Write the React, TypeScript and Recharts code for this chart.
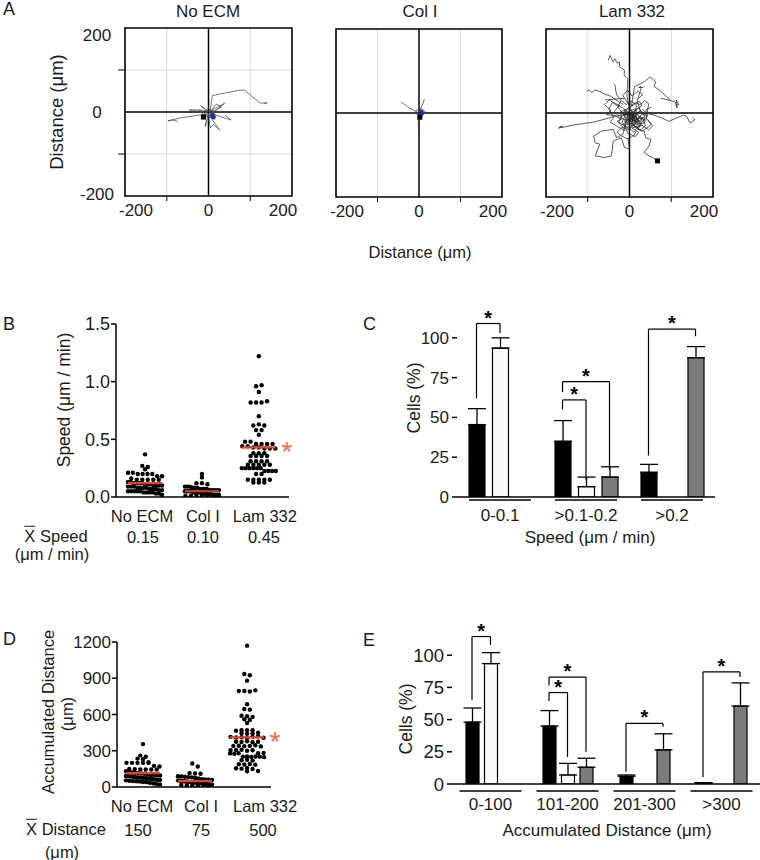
import React from 'react';
import {
  ScatterChart, Scatter, ComposedChart, Bar, ErrorBar, XAxis, YAxis,
  CartesianGrid, ReferenceLine, ReferenceArea,
} from 'recharts';

const FONT = '"Liberation Sans", Arial, Helvetica, sans-serif';
const NARROW = '"Liberation Sans Narrow", "Liberation Sans", Arial, sans-serif';
const INK = '#1b1b1b';
const RED = '#e0452c';
const STAR_RED = '#f36a4c';
const GRAY_BAR = '#7b7b7b';

// ---------- A: cell tracks, µm (x, y) ----------
type Pt = [number, number];

const noEcmTracks: Pt[][] = [
  [[4, 0], [9, 39], [39, 45], [74, 52], [87, 52], [97, 43], [112, 31], [124, 21], [141, 22], [132, 19]],
  [[0, -4], [-27, -8], [-62, -13], [-97, -21], [-85, -19], [-74, -23]],
  [[4, 2], [-12, 4], [-27, 5], [-46, 5], [-40, 3], [-20, 2]],
  [[0, 0], [39, 21], [30, 14], [6, -4]],
  [[2, -2], [54, -19], [40, -8]],
  [[0, -6], [27, -43], [12, -30], [4, -38], [0, -10]],
  [[-2, 2], [-19, 15], [-8, 8]],
  [[0, -4], [-8, -35], [-4, -18]],
  [[4, 0], [19, 19], [31, 12], [8, -2]],
  [[-6, -2], [-22, 4], [-10, -8], [6, -14], [16, -6], [2, 6]],
  [[-4, -6], [10, -10], [14, 2], [-2, 8], [-10, -4], [2, -12], [12, -16]],
];
const noEcmStarts: Pt[] = [[12, -12], [9, -8]];
const noEcmEnds: Pt[] = [[-12, -12]];

const colITracks: Pt[][] = [
  [[-43, 26], [-37, 22], [-31, 18], [-25, 12], [-19, 10], [-12, 6], [-4, 2]],
  [[0, 2], [9, 22], [13, 33]],
  [[2, -5], [-2, -25], [0, -40]],
  [[-8, 6], [8, 10], [16, 2], [4, -9], [-4, -5], [12, -2], [-8, -2], [2, 6]],
];
const colIStarts: Pt[] = [[4, -2], [6, 2]];
const colIEnds: Pt[] = [[2, -10]];

const lam332Tracks: Pt[][] = [
  [[0, -2], [-20, -5], [-43, -10], [-82, -21], [-130, -28], [-170, -36], [-160, -31], [-168, -34]],
  [[0, 8], [-6, 40], [-4, 82], [-13, 90], [-12, 102], [-24, 110], [-24, 122], [-29, 118], [-35, 129], [-39, 122], [-47, 137], [-51, 125]],
  [[-15, 20], [-30, 30], [-45, 40], [-60, 45], [-71, 51], [-82, 55], [-90, 49], [-99, 55], [-102, 51]],
  [[-12, 35], [-35, 33], [-59, 31]],
  [[5, 20], [12, 63], [35, 74], [49, 86], [63, 74], [59, 63], [71, 55], [98, 31]],
  [[75, 35], [94, 31], [110, 26], [114, 12], [112, 31], [118, 20], [110, 18]],
  [[40, 0], [59, -5], [78, -12], [94, -20], [110, -13], [129, -5], [137, -8], [145, -24], [157, -16], [151, -10]],
  [[8, -27], [20, -39], [35, -43], [39, -59], [51, -63], [47, -78], [35, -94], [47, -102], [55, -106], [67, -114], [71, -118], [63, -110]],
  [[-8, -20], [-16, -51], [-31, -59], [-39, -39], [-67, -43], [-86, -55], [-82, -71], [-71, -74], [-82, -102], [-59, -106], [-43, -102], [-39, -67], [-20, -59], [-12, -82], [0, -86], [-4, -59]],
  [[20, 35], [27, 55], [27, 63], [22, 61], [34, 61]],
  [[-20, 31], [-31, 43], [-35, 67], [-38, 70]],
  [[0, 0], [12, -8], [6, -20], [20, -15], [28, -30], [15, -35], [8, -24], [-5, -28], [-2, -12], [10, 5], [22, 12], [30, 0]],
  [[5, -5], [-10, 8], [-22, 2], [-18, -14], [-30, -20], [-12, -30], [0, -40], [10, -22], [25, -8], [38, -18], [44, -4], [30, 10]],
  [[8, -10], [18, 18], [4, 28], [-8, 20], [-20, 30], [-28, 14], [-14, -4], [6, -6], [16, -28], [34, -24], [40, 8], [52, 14]],
  [[10, -12], [2, 12], [14, 24], [26, 20], [36, 30], [46, 22], [40, -12], [52, -28], [30, -44], [18, -36], [10, -46], [-2, -34]],
  [[12, -6], [-6, -18], [-24, -10], [-36, 4], [-24, 18], [-40, 26], [-50, 10], [-38, -10], [-46, -22], [-26, -34], [-10, -42]],
  [[6, -14], [20, -4], [14, 10], [-2, 4], [-6, -10], [10, -18], [24, -22], [16, -8], [4, -2], [14, -16]],
  [[14, -10], [4, -26], [-12, -20], [-4, -6], [8, -2], [18, -12], [10, -30], [22, -36], [32, -18], [20, -6]],
  [[10, -8], [26, 4], [18, 32], [32, 44], [20, 52], [6, 40], [-4, 54], [-16, 42], [-6, 26], [8, 18]],
  [[6, -6], [-14, -26], [-4, -48], [14, -56], [22, -46], [6, -36], [28, -28], [46, -40], [56, -30], [44, -16]],
  [[8, -12], [-16, 12], [-34, 20], [-48, 32], [-60, 20], [-44, 6], [-56, -4], [-34, -6], [-20, -16]],
  [[4, -8], [-8, -2], [-18, -22], [-6, -34], [8, -28], [2, -16], [18, -2], [30, -14], [24, -26], [12, -20]],
  [[10, -4], [22, -20], [36, -8], [28, 6], [14, -2], [6, -22], [-8, -14], [-16, 0], [-4, 10], [10, 2]],
  [[6, -10], [0, -24], [14, -32], [26, -40], [38, -30], [32, -12], [18, -14], [8, 0], [-4, -8], [-10, -26]],
  [[8, -6], [16, 8], [30, 18], [24, 28], [10, 22], [0, 14], [-12, 6], [-2, -6], [12, -14], [20, -28]],
  [[12, -14], [-2, -20], [-14, -36], [-26, -24], [-20, -8], [-6, -2], [4, -14], [16, -24], [28, -4], [40, -2]],
  [[6, -8], [20, -16], [10, -30], [-4, -40], [-18, -34], [-30, -46], [-20, -54], [-4, -62], [10, -54], [16, -44]],
];
const lam332Starts: Pt[] = [];
const lam332Ends: Pt[] = [[67, -114]];

const trackTicks = [-200, -100, 0, 100, 200];

// ---------- B: speed (µm/min) per cell ----------
const groups = ['No ECM', 'Col I', 'Lam 332'];
const speedNoEcm = [0.37, 0.27, 0.26, 0.24, 0.21, 0.21, 0.2, 0.2, 0.2, 0.2, 0.18, 0.18, 0.16, 0.15, 0.15, 0.15, 0.15, 0.15,
  0.13, 0.13, 0.12, 0.12, 0.12, 0.12, 0.11, 0.11, 0.11, 0.1, 0.1, 0.1, 0.1, 0.09, 0.09, 0.09, 0.08, 0.08, 0.08, 0.08,
  0.07, 0.07, 0.07, 0.06, 0.06, 0.05, 0.05, 0.05, 0.05, 0.05, 0.04, 0.04, 0.04, 0.04, 0.03, 0.03, 0.02];
const speedColI = [0.2, 0.17, 0.12, 0.12, 0.11, 0.09, 0.09, 0.09, 0.08, 0.08, 0.08, 0.07, 0.07, 0.07, 0.07, 0.06, 0.06,
  0.06, 0.06, 0.06, 0.05, 0.05, 0.05, 0.05, 0.05, 0.04, 0.04, 0.04, 0.04, 0.04, 0.03, 0.03, 0.03, 0.03, 0.03, 0.03,
  0.02, 0.02, 0.02, 0.02, 0.02, 0.01, 0.01, 0.01, 0.01, 0.01, 0.01, 0.01];
const speedLam = [1.22, 0.96, 0.97, 0.91, 0.82, 0.82, 0.82, 0.83, 0.7, 0.62, 0.63, 0.62, 0.58, 0.58, 0.54, 0.48, 0.48,
  0.46, 0.46, 0.46, 0.46, 0.44, 0.44, 0.43, 0.43, 0.42, 0.42, 0.42, 0.38, 0.38, 0.38, 0.355, 0.355, 0.355, 0.355,
  0.31, 0.31, 0.31, 0.31, 0.28, 0.28, 0.28, 0.28, 0.28, 0.25, 0.25, 0.25, 0.25, 0.25, 0.25, 0.225, 0.225, 0.225,
  0.225, 0.2, 0.2, 0.15, 0.15, 0.15, 0.15, 0.15, 0.125, 0.125, 0.125];
const speedMeans = [0.12, 0.05, 0.43];
const speedMeanLabels = ['0.15', '0.10', '0.45'];

// ---------- C: % cells per speed bin ----------
const speedBins = ['0-0.1', '>0.1-0.2', '>0.2'];
const speedPctNoEcm = [45.5, 35, 15.5];
const speedErrNoEcm = [10, 13, 5];
const speedPctColI = [93.5, 6.5, 0];
const speedErrColI = [6.5, 6, 0];
const speedPctLam = [0, 12.5, 87.5];
const speedErrLam = [0, 6.5, 7];
// significance brackets: group, bar slot from/to, leg and top levels (%)
const speedBrackets = [
  { g: 0, from: 0, to: 1, yl: 62, yt: 109, yr: 103 },
  { g: 1, from: 0, to: 1, yl: 55, yt: 61, yr: 11 },
  { g: 1, from: 0, to: 2, yl: 66, yt: 72.5, yr: 17 },
  { g: 2, from: 0, to: 2, yl: 26, yt: 105.5, yr: 101 },
];

// ---------- D: accumulated distance (µm) per cell ----------
const distNoEcm = [355, 260, 250, 235, 230, 205, 200, 200, 200, 200, 200, 175, 170, 150, 148, 146, 145, 145, 145, 130,
  125, 120, 118, 115, 112, 110, 105, 100, 100, 98, 95, 92, 90, 88, 85, 82, 80, 78, 75, 72, 70, 68, 65, 62, 60, 58,
  55, 52, 50, 48, 45, 42, 40, 35, 30, 25, 20];
const distColI = [195, 170, 115, 112, 110, 90, 88, 85, 82, 80, 75, 70, 65, 62, 60, 58, 55, 52, 50, 48, 46, 44, 42,
  40, 38, 36, 34, 32, 30, 28, 26, 24, 22, 20, 18, 15, 12, 10, 8, 5];
const distLam = [1170, 935, 925, 880, 795, 795, 790, 800, 685, 645, 640, 590, 585, 580, 560, 555, 530, 470, 470, 465,
  470, 445, 440, 445, 450, 415, 410, 412, 405, 418, 420, 408, 375, 372, 378, 370, 375, 340, 342, 338, 340, 345, 336,
  305, 306, 308, 300, 304, 280, 278, 275, 282, 279, 250, 252, 248, 253, 251, 247, 222, 225, 220, 188, 186, 190, 185,
  155, 152, 158, 150, 132, 130];
const distMeans = [115, 48, 410];
const distMeanLabels = ['150', '75', '500'];

// ---------- E: % cells per distance bin ----------
const distBins = ['0-100', '101-200', '201-300', '>300'];
const distPctNoEcm = [48, 45, 6, 1];
const distErrNoEcm = [11, 12, 1, 0];
const distPctColI = [93.5, 7, 0, 0];
const distErrColI = [8.5, 9, 0, 0];
const distPctLam = [0, 13, 26.5, 60.5];
const distErrLam = [0, 7, 12.5, 18];
const distBrackets = [
  { g: 0, from: 0, to: 1, yl: 65, yt: 114.5, yr: 108 },
  { g: 1, from: 0, to: 1, yl: 64.5, yt: 71, yr: 21 },
  { g: 1, from: 0, to: 2, yl: 76.5, yt: 83, yr: 25 },
  { g: 2, from: 0, to: 2, yl: 9.5, yt: 47, yr: 44.5 },
  { g: 3, from: 0, to: 2, yl: 5.5, yt: 87, yr: 83 },
];

// ---------- helpers ----------
const toPts = (t: Pt[]) => t.map(([x, y]) => ({ x, y }));

// row-based dot layout (like a column scatter): values in the same pixel row spread sideways
function swarm(values: number[], cat: number, pxPerY: number, pxPerX: number) {
  const rows = new Map<number, number[]>();
  values.forEach((v) => {
    const r = Math.round((v * pxPerY) / 4.5);
    if (!rows.has(r)) rows.set(r, []);
    rows.get(r)!.push(v);
  });
  const out: { x: number; y: number }[] = [];
  rows.forEach((vs) => {
    const n = vs.length;
    const step = n > 1 ? Math.min(5.5, 34 / (n - 1)) : 0;
    vs.forEach((v, j) => out.push({ x: cat + ((j - (n - 1) / 2) * step) / pxPerX, y: v }));
  });
  return out;
}

const noShape = () => <g />;
const blackDot = (p: any) => <circle cx={p.cx} cy={p.cy} r={2.2} fill="#000" />;
const blueDot = (p: any) => <circle cx={p.cx} cy={p.cy} r={2.4} fill="#1f2fa8" />;
const blackSquare = (p: any) => <rect x={p.cx - 2.5} y={p.cy - 2.5} width={5} height={5} fill="#000" />;

function Txt({ x, y, size = 17, rotate = false, anchor = 'middle', color = INK, children }: any) {
  const tx = anchor === 'middle' ? '-50%' : anchor === 'end' ? '-100%' : '0';
  return (
    <div
      style={{
        position: 'absolute', left: x, top: y, fontSize: size, fontFamily: FONT, color,
        lineHeight: 1, whiteSpace: 'nowrap',
        transform: `translate(${tx}, -50%)${rotate ? ' rotate(-90deg)' : ''}`,
      }}
    >
      {children}
    </div>
  );
}

const XBar = ({ label }: { label: string }) => (
  <span><span style={{ textDecoration: 'overline' }}>X</span> {label}</span>
);

function TrackXTick(p: any) {
  const v = p.payload.value;
  if (Math.abs(v) === 100) {
    return <line x1={p.x} x2={p.x} y1={p.y - 8} y2={p.y - 3} stroke="#000" strokeWidth={1} />;
  }
  const dx = v === -200 ? 11 : v === 200 ? -9 : 0;
  return (
    <text x={p.x + dx} y={p.y + 12} textAnchor="middle" fontSize={17} fontFamily={FONT} fill={INK}>{v}</text>
  );
}

function TrackYTick(p: any) {
  const v = p.payload.value;
  if (Math.abs(v) === 100) {
    return <line x1={p.x + 1} x2={p.x + 8} y1={p.y} y2={p.y} stroke="#000" strokeWidth={1} />;
  }
  const dy = v === 200 ? 13 : v === -200 ? 4 : 6;
  return (
    <text x={p.x - 20} y={p.y + dy} textAnchor="middle" fontSize={17} fontFamily={FONT} fill={INK}>{v}</text>
  );
}

function TrackPanel({ tracks, starts, ends, left, top, width, height, margin, yTicks, color }: any) {
  return (
    <div style={{ position: 'absolute', left, top }}>
      <ScatterChart width={width} height={height} margin={margin}>
        <CartesianGrid stroke="#d9d9d9" horizontalValues={[-100, 100]} verticalValues={[-100, 100]} />
        <XAxis type="number" dataKey="x" domain={[-200, 200]} ticks={trackTicks} interval={0} allowDataOverflow
          axisLine={false} tickLine={false} height={30} tick={TrackXTick} />
        <YAxis type="number" dataKey="y" domain={[-200, 200]} ticks={trackTicks} interval={0} allowDataOverflow
          axisLine={false} tickLine={false} width={yTicks ? 40 : 0} tick={yTicks ? TrackYTick : false} />
        <ReferenceLine x={0} stroke="#000" strokeWidth={1.5} />
        <ReferenceLine y={0} stroke="#000" strokeWidth={1.5} />
        {tracks.map((t: Pt[], i: number) => (
          <Scatter key={i} data={toPts(t)} line={{ stroke: color, strokeWidth: 0.75 }} shape={noShape}
            isAnimationActive={false} />
        ))}
        <Scatter data={toPts(starts)} shape={blueDot} isAnimationActive={false} />
        <Scatter data={toPts(ends)} shape={blackSquare} isAnimationActive={false} />
        <ReferenceArea x1={-200} x2={200} y1={-200} y2={200} fill="none" fillOpacity={0} stroke="#000"
          strokeWidth={1.6} />
      </ScatterChart>
    </div>
  );
}

const makeCatTick = (shifts: number[]) => (p: any) => (
  <text x={p.x + shifts[p.payload.value]} y={p.y + 17} textAnchor="middle" fontSize={16.5} fontFamily={FONT}
    fill={INK}>{groups[p.payload.value]}</text>
);

const redStar = (p: any) => {
  const vb = p.viewBox;
  return (
    <text x={vb.x + vb.width + 11} y={vb.y + 14} textAnchor="middle" fontSize={28} fontFamily={FONT}
      fill={STAR_RED}>*</text>
  );
};

function DotPanel({ sets, means, pxPerY, pxPerX, domainX, domainY, yTicks, tickFmt, shifts, left, top, width,
  height, margin, yWidth, tickFont }: any) {
  const half = 17 / pxPerX;
  return (
    <div style={{ position: 'absolute', left, top }}>
      <ScatterChart width={width} height={height} margin={margin}>
        <XAxis type="number" dataKey="x" domain={domainX} ticks={[0, 1, 2]} interval={0} allowDataOverflow
          tickLine={false} axisLine={{ stroke: '#000', strokeWidth: 1.5 }} height={26} tick={makeCatTick(shifts)} />
        <YAxis type="number" dataKey="y" domain={domainY} ticks={yTicks} interval={0} allowDataOverflow width={yWidth}
          axisLine={{ stroke: '#000', strokeWidth: 1.5 }} tickLine={{ stroke: '#000', strokeWidth: 1.5 }}
          tickSize={5} tickMargin={1} tickFormatter={tickFmt}
          tick={{ fill: INK, fontSize: tickFont, fontFamily: FONT }} />
        {sets.map((vals: number[], i: number) => (
          <Scatter key={i} data={swarm(vals, i, pxPerY, pxPerX)} shape={blackDot} isAnimationActive={false} />
        ))}
        {/* mean lines drawn as 2-point series so they sit on top of the dots */}
        {means.map((m: number, i: number) => (
          <Scatter key={'m' + i} data={[{ x: i - half, y: m }, { x: i + half, y: m }]}
            line={{ stroke: RED, strokeWidth: 2.2 }} shape={noShape} isAnimationActive={false} />
        ))}
        <ReferenceLine segment={[{ x: 2 - half, y: means[2] }, { x: 2 + half, y: means[2] }]} stroke="none"
          ifOverflow="visible" label={redStar} />
      </ScatterChart>
    </div>
  );
}

const makeBinTick = (lineDy: number, textDy: number, half: number) => (p: any) => (
  <g>
    <line x1={p.x - half} x2={p.x + half} y1={p.y + lineDy} y2={p.y + lineDy} stroke="#000" strokeWidth={1.3} />
    <text x={p.x} y={p.y + textDy} textAnchor="middle" fontSize={17} fontFamily={FONT} fill={INK}>
      {p.payload.value}
    </text>
  </g>
);

function BarPanel({ bins, noEcm, noEcmErr, colI, colIErr, lam, lamErr, brackets, left, top, width, height, margin,
  barSize, barGap, domainY, binTick, tickFont, tickFamily }: any) {
  const table = bins.map((bin: string, i: number) => ({
    bin,
    noEcm: noEcm[i], noEcmErr: [0, noEcmErr[i]],
    colI: colI[i], colIErr: [0, colIErr[i]],
    lam: lam[i], lamErr: [0, lamErr[i]],
  }));
  const pitch = barSize + barGap;
  const ink = { stroke: '#000', strokeWidth: 1.2 };
  return (
    <div style={{ position: 'absolute', left, top }}>
      <ComposedChart width={width} height={height} data={table} margin={margin} barSize={barSize} barGap={barGap}>
        <XAxis dataKey="bin" type="category" height={40} interval={0} tickLine={false}
          axisLine={{ stroke: '#000', strokeWidth: 1.5 }} tick={binTick} />
        <YAxis type="number" domain={domainY} ticks={[0, 25, 50, 75, 100]} interval={0} allowDataOverflow width={77}
          axisLine={false} tickLine={{ stroke: '#000', strokeWidth: 1.5 }} tickSize={5} tickMargin={3}
          tick={{ fill: INK, fontSize: tickFont, fontFamily: tickFamily }} />
        <Bar dataKey="noEcm" fill="#000" stroke="#000" strokeWidth={1.2} isAnimationActive={false}>
          <ErrorBar dataKey="noEcmErr" width={9} stroke="#000" strokeWidth={1.3} direction="y" />
        </Bar>
        <Bar dataKey="colI" fill="#fafafa" stroke="#000" strokeWidth={1.2} isAnimationActive={false}>
          <ErrorBar dataKey="colIErr" width={9} stroke="#000" strokeWidth={1.3} direction="y" />
        </Bar>
        <Bar dataKey="lam" fill={GRAY_BAR} stroke="#000" strokeWidth={1.2} isAnimationActive={false}>
          <ErrorBar dataKey="lamErr" width={9} stroke="#000" strokeWidth={1.3} direction="y" />
        </Bar>
        {/* brackets: segments sit on the bin centre; shapes shift them onto the compared bars */}
        {brackets.map((b: any, i: number) => {
          const bin = bins[b.g];
          const da = (b.from - 1) * pitch;
          const db = (b.to - 1) * pitch;
          return [
            <ReferenceLine key={'l' + i} ifOverflow="visible" segment={[{ x: bin, y: b.yl }, { x: bin, y: b.yt }]}
              shape={(p: any) => <line x1={p.x1 + da} x2={p.x2 + da} y1={p.y1} y2={p.y2} {...ink} />} />,
            <ReferenceLine key={'r' + i} ifOverflow="visible" segment={[{ x: bin, y: b.yr }, { x: bin, y: b.yt }]}
              shape={(p: any) => <line x1={p.x1 + db} x2={p.x2 + db} y1={p.y1} y2={p.y2} {...ink} />} />,
            <ReferenceLine key={'t' + i} ifOverflow="visible" segment={[{ x: bin, y: b.yt }, { x: bin, y: b.yt }]}
              shape={(p: any) => (
                <g>
                  <line x1={p.x1 + da} x2={p.x1 + db} y1={p.y1} y2={p.y1} {...ink} />
                  <text x={p.x1 + (da + db) / 2} y={p.y1 + 1} textAnchor="middle" fontSize={20} fontWeight="bold"
                    fontFamily={FONT} fill="#000">*</text>
                </g>
              )} />,
          ];
        })}
      </ComposedChart>
    </div>
  );
}

export default function App() {
  return (
    <div style={{ position: 'absolute', left: 0, top: 0, width: 760, height: 860, overflow: 'hidden',
      background: '#fff', fontFamily: FONT }}>
      {/* A */}
      <Txt x={3} y={9} size={18} anchor="start">A</Txt>
      <Txt x={208} y={11}>No ECM</Txt>
      <Txt x={420} y={11}>Col I</Txt>
      <Txt x={632} y={11}>Lam 332</Txt>
      <Txt x={57} y={112} size={18.5} rotate>Distance (μm)</Txt>
      <Txt x={420} y={252} size={16.5}>Distance (μm)</Txt>
      <TrackPanel tracks={noEcmTracks} starts={noEcmStarts} ends={noEcmEnds} color="#4a4a4a" yTicks
        left={60} top={20} width={245} height={210} margin={{ top: 8, right: 13, bottom: 4, left: 25 }} />
      <TrackPanel tracks={colITracks} starts={colIStarts} ends={colIEnds} color="#3a3a3a"
        left={326} top={20} width={190} height={212} margin={{ top: 9, right: 14, bottom: 5, left: 10 }} />
      <TrackPanel tracks={lam332Tracks} starts={lam332Starts} ends={lam332Ends} color="#262626"
        left={536} top={20} width={190} height={212} margin={{ top: 9, right: 13, bottom: 5, left: 10 }} />

      {/* B */}
      <Txt x={3} y={324} size={18} anchor="start">B</Txt>
      <Txt x={65} y={400} size={17.5} rotate>Speed (μm / min)</Txt>
      <DotPanel sets={[speedNoEcm, speedColI, speedLam]} means={speedMeans} pxPerY={173 / 1.5} pxPerX={173 / 3.04}
        domainX={[-0.51, 2.53]} domainY={[0, 1.5]} yTicks={[0, 0.5, 1, 1.5]} tickFmt={(v: number) => v.toFixed(1)}
        shifts={[-3, 1, 6]} left={40} top={300} width={270} height={230}
        margin={{ top: 24, right: 21, bottom: 7, left: 0 }} yWidth={76} tickFont={18} />
      <Txt x={56} y={536} size={16.5}><XBar label="Speed" /></Txt>
      {speedMeanLabels.map((s, i) => <Txt key={s} x={[143, 203, 264][i]} y={537} size={16.5}>{s}</Txt>)}
      <Txt x={52} y={554} size={16.5}>(μm / min)</Txt>

      {/* C */}
      <Txt x={363} y={324} size={18} anchor="start">C</Txt>
      <Txt x={415} y={398} size={17.5} rotate>Cells (%)</Txt>
      <BarPanel bins={speedBins} noEcm={speedPctNoEcm} noEcmErr={speedErrNoEcm} colI={speedPctColI}
        colIErr={speedErrColI} lam={speedPctLam} lamErr={speedErrLam} brackets={speedBrackets}
        left={380} top={290} width={340} height={250} margin={{ top: 16, right: 5, bottom: 3, left: 0 }}
        barSize={16} barGap={7.5} domainY={[0, 120]} binTick={makeBinTick(-5, 16, 31)} tickFont={17}
        tickFamily={NARROW} />
      <Txt x={590} y={537}>Speed (μm / min)</Txt>

      {/* D */}
      <Txt x={3} y={639} size={18} anchor="start">D</Txt>
      <Txt x={48} y={712} size={16.5} rotate>Accumulated Distance</Txt>
      <Txt x={67} y={714} size={16.5} rotate>(μm)</Txt>
      <DotPanel sets={[distNoEcm, distColI, distLam]} means={distMeans} pxPerY={145 / 1200} pxPerX={154 / 2.96}
        domainX={[-0.5, 2.46]} domainY={[0, 1200]} yTicks={[0, 300, 600, 900, 1200]} tickFmt={(v: number) => String(v)}
        shifts={[-1, 6, 18]} left={40} top={620} width={265} height={195}
        margin={{ top: 22, right: 34, bottom: 2, left: 0 }} yWidth={77} tickFont={17} />
      <Txt x={66} y={829} size={16.5}><XBar label="Distance" /></Txt>
      {distMeanLabels.map((s, i) => <Txt key={s} x={[138, 201, 263][i]} y={830} size={16.5}>{s}</Txt>)}
      <Txt x={62} y={852} size={16.5}>(μm)</Txt>

      {/* E */}
      <Txt x={363} y={640} size={18} anchor="start">E</Txt>
      <Txt x={407} y={719} size={17.5} rotate>Cells (%)</Txt>
      <BarPanel bins={distBins} noEcm={distPctNoEcm} noEcmErr={distErrNoEcm} colI={distPctColI}
        colIErr={distErrColI} lam={distPctLam} lamErr={distErrLam} brackets={distBrackets}
        left={375} top={605} width={385} height={240} margin={{ top: 18, right: 0, bottom: 21, left: 0 }}
        barSize={13} barGap={5.5} domainY={[0, 125]} binTick={makeBinTick(-1, 18, 31)} tickFont={18.5}
        tickFamily={FONT} />
      <Txt x={607} y={830}>Accumulated Distance (μm)</Txt>
    </div>
  );
}
